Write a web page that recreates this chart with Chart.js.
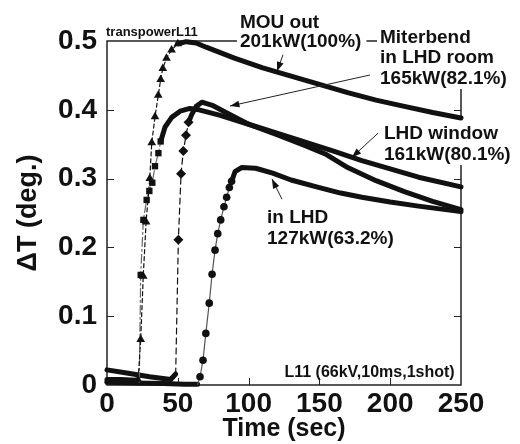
<!DOCTYPE html>
<html>
<head>
<meta charset="utf-8">
<script src="https://cdn.jsdelivr.net/npm/chart.js@4.4.1/dist/chart.umd.min.js"></script>
<style>
  html, body { margin: 0; padding: 0; background: #fff; }
  #wrap { width: 520px; height: 444px; }
</style>
</head>
<body>
<div id="wrap"><canvas id="c" width="520" height="444"></canvas></div>
<script>
// tick labels
const xTicks = [0, 50, 100, 150, 200, 250];
const yTicks = [0, 0.1, 0.2, 0.3, 0.4, 0.5];

// MOU out (triangles)
const mouT = [0, 10, 20, 22, 23.8, 25.6, 27.6, 30.2, 31.6, 33.9, 36.2, 37.9, 39.4, 42, 45.6, 50, 56, 63, 70, 90, 110, 130, 150, 170, 190, 210, 230, 250];
const mouV = [0.008, 0.008, 0.007, 0.008, 0.066, 0.158, 0.237, 0.300, 0.352, 0.390, 0.421, 0.444, 0.460, 0.475, 0.487, 0.496, 0.499, 0.497, 0.491, 0.475, 0.461, 0.449, 0.437, 0.425, 0.414, 0.405, 0.396, 0.388];

// LHD window (squares)
const winT = [0, 10, 20, 22.8, 23.8, 25.7, 28, 29.9, 32, 33.9, 36.3, 37.9, 41, 45.7, 51.6, 58.6, 65, 80, 100, 120, 140, 160, 180, 200, 220, 250];
const winV = [0.005, 0.005, 0.004, 0.004, 0.160, 0.240, 0.269, 0.282, 0.294, 0.318, 0.337, 0.354, 0.375, 0.389, 0.398, 0.402, 0.400, 0.392, 0.379, 0.366, 0.353, 0.340, 0.326, 0.314, 0.302, 0.288];

// Miterbend in LHD room (diamonds)
const mitT = [0, 15, 30, 45, 48.5, 50.4, 52.3, 53.9, 55.8, 57.6, 59.8, 63, 67, 75, 85, 100, 120, 140, 155, 170, 190, 210, 230, 250];
const mitV = [0.022, 0.017, 0.012, 0.008, 0.016, 0.211, 0.307, 0.340, 0.363, 0.382, 0.393, 0.405, 0.411, 0.406, 0.395, 0.379, 0.364, 0.348, 0.335, 0.316, 0.297, 0.281, 0.267, 0.255];

// in LHD (circles)
const inT = [0, 20, 40, 55, 64, 65.7, 67.8, 69.8, 72.2, 74.2, 76.3, 78.2, 80.3, 82.6, 84.5, 86.4, 88, 90.4, 95, 105, 117, 130, 150, 165, 180, 200, 220, 250];
const inV = [0.004, 0.003, 0.002, 0.001, 0.001, 0.012, 0.036, 0.075, 0.119, 0.161, 0.196, 0.220, 0.240, 0.259, 0.273, 0.287, 0.296, 0.310, 0.316, 0.315, 0.308, 0.298, 0.287, 0.279, 0.273, 0.266, 0.260, 0.252];

const FONT = '"Liberation Sans", Arial, Helvetica, sans-serif';
const INK = '#111';

function pts(ts, vs) { return ts.map((t, i) => ({ x: t, y: vs[i] })); }

// thin dashed line + markers on the rise, thick band elsewhere
function series(label, ts, vs, style, riseFrom, riseTo, dash, thinColor, radius) {
  const thin = c => c.p0DataIndex >= riseFrom && c.p1DataIndex <= riseTo;
  return {
    label,
    data: pts(ts, vs),
    pointStyle: style,
    pointRadius: c => (c.dataIndex > riseFrom && c.dataIndex <= riseTo) ? radius : 0,
    pointHoverRadius: 0,
    pointBackgroundColor: INK,
    pointBorderColor: INK,
    pointBorderWidth: 0,
    borderColor: INK,
    borderWidth: 5,
    borderJoinStyle: 'round',
    borderCapStyle: 'round',
    tension: 0,
    clip: 10,
    segment: {
      borderWidth: c => thin(c) ? 1.2 : 5,
      borderDash: c => thin(c) ? dash : [],
      borderColor: c => thin(c) ? thinColor : INK
    }
  };
}

const labelGroups = [
  { x: 93.9, y: [0.519, 0.491], lines: ['MOU out', '201kW(100%)'], box: true },
  { x: 192.8, y: [0.497, 0.468, 0.4375], lines: ['Miterbend', 'in LHD room', '165kW(82.1%)'], box: true },
  { x: 195.6, y: [0.3576, 0.327], lines: ['LHD window', '161kW(80.1%)'], box: true },
  { x: 113, y: [0.2355, 0.205], lines: ['in LHD', '127kW(63.2%)'], box: false }
];

// [from t, from v, tip t, tip v]
const arrows = [
  [124.3, 0.48, 120.1, 0.456],
  [185.7, 0.4506, 86.9, 0.4055],
  [191.4, 0.366, 173, 0.331],
  [123.6, 0.27, 116.5, 0.2994]
];

const decorPlugin = {
  id: 'decor',
  beforeDatasetsDraw(chart) {
    const { ctx, chartArea: a, scales: { x, y } } = chart;
    ctx.save();
    ctx.strokeStyle = '#222';
    ctx.lineWidth = 1.5;
    ctx.strokeRect(a.left, a.top, a.right - a.left, a.bottom - a.top);
    ctx.beginPath();
    yTicks.slice(1, -1).forEach(v => {
      const py = Math.round(y.getPixelForValue(v)) + 0.5;
      ctx.moveTo(a.left, py); ctx.lineTo(a.left + 7, py);
      ctx.moveTo(a.right, py); ctx.lineTo(a.right - 7, py);
    });
    xTicks.slice(1, -1).forEach(t => {
      const px = Math.round(x.getPixelForValue(t)) + 0.5;
      ctx.moveTo(px, a.bottom); ctx.lineTo(px, a.bottom - 7);
    });
    ctx.lineWidth = 1;
    ctx.stroke();

    // white boxes behind label groups hide the frame there
    ctx.font = 'bold 19px ' + FONT;
    ctx.fillStyle = '#fff';
    labelGroups.filter(g => g.box).forEach(g => {
      const lx = x.getPixelForValue(g.x);
      const w = Math.max(...g.lines.map(s => ctx.measureText(s).width));
      const top = y.getPixelForValue(g.y[0]) - 19;
      const bot = y.getPixelForValue(g.y[g.y.length - 1]) + 5;
      ctx.fillRect(lx - 3, top, w + 8, bot - top);
    });
    ctx.restore();
  },
  afterDraw(chart) {
    const { ctx, scales: { x, y } } = chart;
    ctx.save();
    ctx.fillStyle = INK;
    ctx.textBaseline = 'alphabetic';

    ctx.font = 'bold 13px ' + FONT;
    ctx.fillText('transpowerL11', x.getPixelForValue(-0.7), y.getPixelForValue(0.507));

    ctx.font = 'bold 19px ' + FONT;
    labelGroups.forEach(g => {
      g.lines.forEach((s, i) => ctx.fillText(s, x.getPixelForValue(g.x), y.getPixelForValue(g.y[i])));
    });

    ctx.font = 'bold 16px ' + FONT;
    ctx.textAlign = 'right';
    ctx.fillText('L11 (66kV,10ms,1shot)', x.getPixelForValue(245.5), y.getPixelForValue(0.0116));

    ctx.strokeStyle = '#222';
    ctx.lineWidth = 1;
    arrows.forEach(([t0, v0, t1, v1]) => {
      const x0 = x.getPixelForValue(t0), y0 = y.getPixelForValue(v0);
      const x1 = x.getPixelForValue(t1), y1 = y.getPixelForValue(v1);
      const ang = Math.atan2(y1 - y0, x1 - x0);
      ctx.beginPath();
      ctx.moveTo(x0, y0); ctx.lineTo(x1, y1);
      ctx.stroke();
      ctx.beginPath();
      ctx.moveTo(x1, y1);
      ctx.lineTo(x1 - 10 * Math.cos(ang - 0.35), y1 - 10 * Math.sin(ang - 0.35));
      ctx.lineTo(x1 - 10 * Math.cos(ang + 0.35), y1 - 10 * Math.sin(ang + 0.35));
      ctx.closePath();
      ctx.fill();
    });
    ctx.restore();
  }
};

new Chart(document.getElementById('c'), {
  type: 'line',
  data: {
    datasets: [
      series('MOU out', mouT, mouV, 'triangle', 3, 15, [4, 3], INK, 5),
      series('LHD window', winT, winV, 'rect', 3, 11, [9, 3, 2, 3], '#666', 4.5),
      series('Miterbend', mitT, mitV, 'rectRot', 4, 9, [6, 4], INK, 5),
      series('in LHD', inT, inV, 'circle', 4, 16, [], '#555', 3.8)
    ]
  },
  options: {
    responsive: false,
    animation: false,
    events: [],
    layout: { padding: { top: 41, right: 59, left: 0, bottom: 0 } },
    plugins: { legend: { display: false }, tooltip: { enabled: false } },
    scales: {
      x: {
        type: 'linear', min: 0, max: 250,
        afterBuildTicks: s => { s.ticks = xTicks.map(v => ({ value: v })); },
        afterFit: s => { s.height = 59; },
        grid: { display: false, drawTicks: false },
        border: { display: false },
        ticks: { color: INK, padding: 2, maxRotation: 0, font: { family: FONT, size: 28, weight: 'bold' } },
        title: { display: true, text: 'Time (sec)', color: INK, padding: { top: 0, bottom: 0 },
                 font: { family: FONT, size: 25, weight: 'bold', lineHeight: 1.2 } }
      },
      y: {
        type: 'linear', min: 0, max: 0.5,
        afterBuildTicks: s => { s.ticks = yTicks.map(v => ({ value: v })); },
        afterFit: s => { s.width = 107; },
        grid: { display: false, drawTicks: false },
        border: { display: false },
        ticks: { color: INK, padding: 10, callback: v => v === 0 ? '0' : v.toFixed(1),
                 font: { family: FONT, size: 28, weight: 'bold' } },
        title: { display: true, text: 'ΔT (deg.)', color: INK, padding: { top: 12, bottom: 0 },
                 font: { family: FONT, size: 27, weight: 'bold', lineHeight: 1.2 } }
      }
    }
  },
  plugins: [decorPlugin]
});
</script>
</body>
</html>
